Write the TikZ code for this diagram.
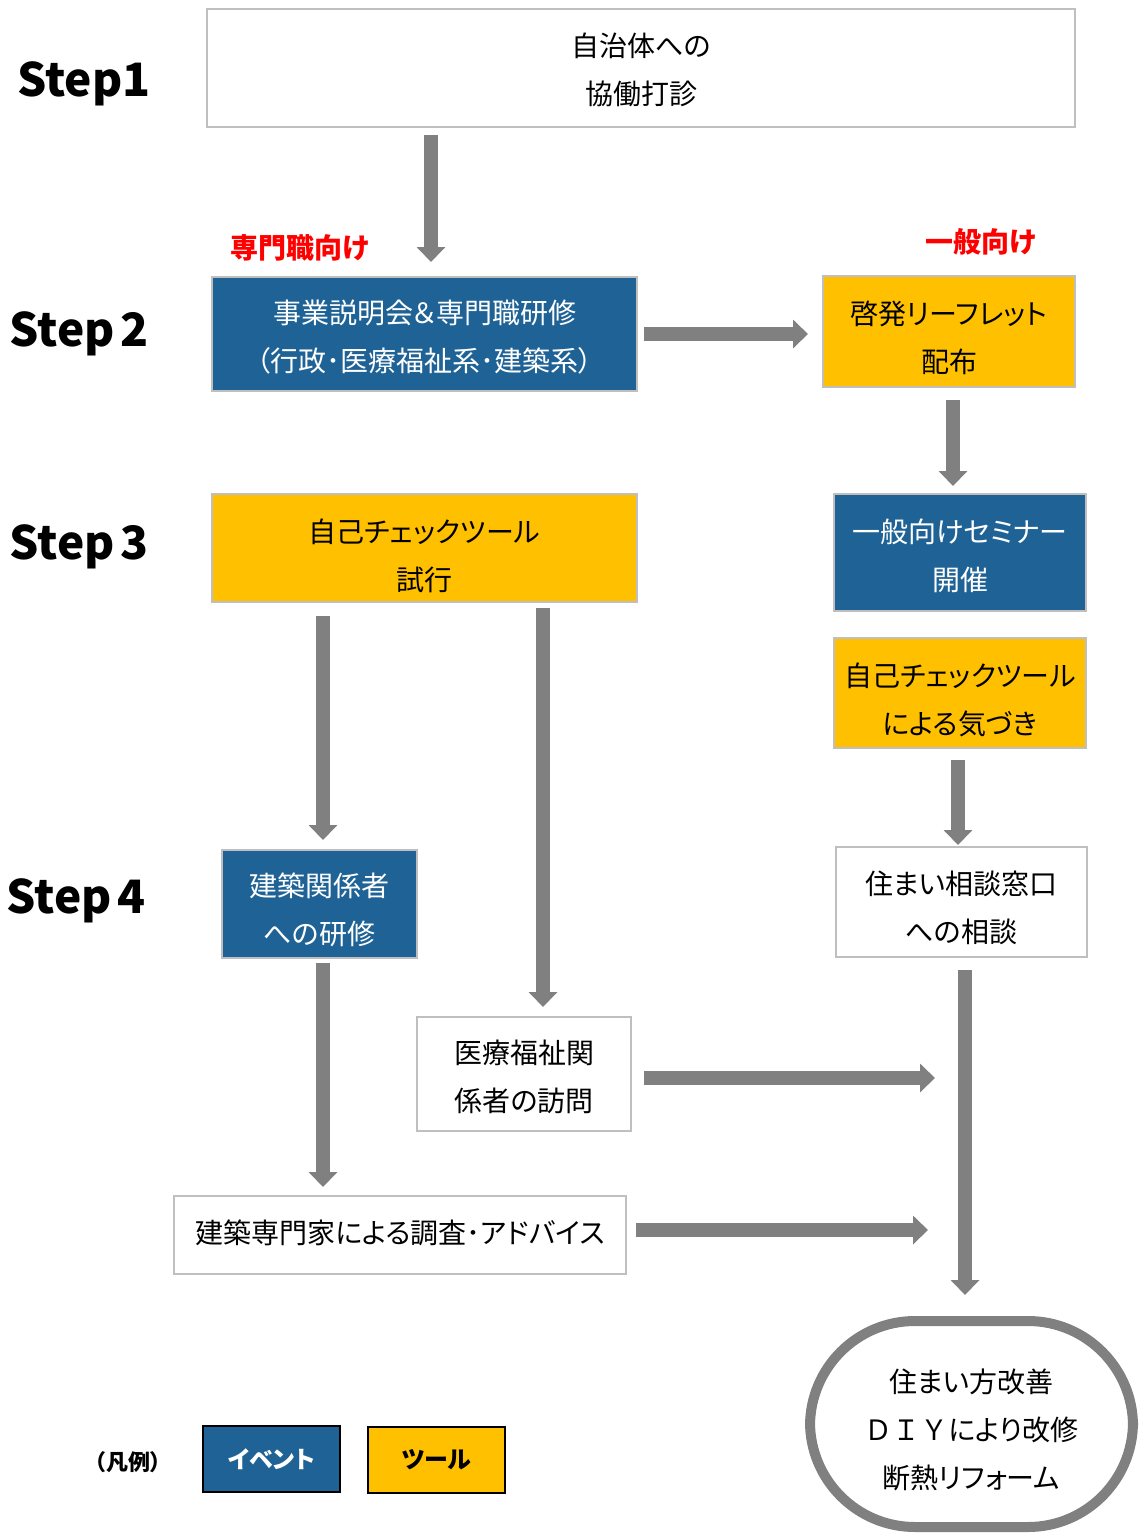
\documentclass[tikz,border=0pt]{standalone}
\usepackage{fontspec}
\setmainfont{Noto Sans CJK JP}[RawFeature={+palt}]
\newfontfamily\jpwide{Noto Sans CJK JP}
\usetikzlibrary{arrows.meta,calc}
\definecolor{evblue}{HTML}{1F6396}
\definecolor{toolyel}{HTML}{FFC000}
\definecolor{bordgray}{HTML}{BFBFBF}
\definecolor{arrgray}{HTML}{808080}
\tikzset{
  box/.style={rectangle, inner sep=0pt, outer sep=0pt, line width=2pt},
  whitebox/.style={box, draw=bordgray, fill=white},
  bluebox/.style={box, draw=bordgray, fill=evblue},
  yelbox/.style={box, draw=bordgray, fill=toolyel},
  btext/.style={inner sep=0pt, align=center, font=\fontsize{28}{48}\selectfont, text=black},
  wtext/.style={btext, text=white},
  fat/.style={draw=arrgray, line width=14pt, -{Triangle[width=28pt,length=15pt]}, arrgray},
  steplabel/.style={font=\bfseries\fontsize{46}{50}\selectfont, inner sep=0pt},
  redlabel/.style={font=\bfseries\fontsize{28}{30}\selectfont, text=red, inner sep=0pt},
  legbox/.style={rectangle, inner sep=0pt, outer sep=0pt, draw=black, line width=1.5pt,
    minimum width=137pt, minimum height=66pt, font=\bfseries\fontsize{24}{26}\selectfont}
}
\begin{document}
\begin{tikzpicture}[x=1pt,y=-1pt]
\useasboundingbox (0,0) rectangle (1140,1535);

% step labels
\node[steplabel] (st1) at (84,84) {Step1};
\node[steplabel] (st2) at (79,334) {Step\hspace{0.12em}2};
\node[steplabel] (st3) at (79,547) {Step\hspace{0.12em}3};
\node[steplabel] (st4) at (76,901) {Step\hspace{0.12em}4};

% red labels
\node[redlabel] (lpro) at (300,248) {専門職向け};
\node[redlabel] (lgen) at (981,242) {一般向け};

% boxes
\node[whitebox, minimum width=868pt, minimum height=118pt] (s1) at (641,68) {};
\node[bluebox, minimum width=425pt, minimum height=114pt] (s2) at (424.5,334) {};
\node[yelbox, minimum width=252pt, minimum height=111pt] (leaf) at (949,331.5) {};
\node[yelbox, minimum width=425pt, minimum height=108pt] (s3) at (424.5,548) {};
\node[bluebox, minimum width=252pt, minimum height=117pt] (sem) at (960,552.5) {};
\node[yelbox, minimum width=252pt, minimum height=110pt] (chk) at (960,693) {};
\node[bluebox, minimum width=195pt, minimum height=108pt] (s4) at (319.5,904) {};
\node[whitebox, minimum width=251pt, minimum height=110pt] (cons) at (961.5,902) {};
\node[whitebox, minimum width=214pt, minimum height=114pt] (med) at (524,1074) {};
\node[whitebox, minimum width=452pt, minimum height=78pt] (adv) at (400,1235) {};
\node[rectangle, rounded corners=105pt, draw=arrgray, line width=10pt, fill=white,
  inner sep=0pt, outer sep=0pt, minimum width=323pt, minimum height=206pt] (goal) at (971.5,1424) {};

% box texts
\node[btext] (s1t) at (641,70) {自治体への\\協働打診};
\node[wtext] (s2t) at (424.5,337.5) {事業説明会＆専門職研修\\（行政･医療福祉系･建築系）};
\node[btext] (leaft) at (949,337.5) {啓発リーフレット\\配布};
\node[btext] (s3t) at (424.5,555.5) {自己チェックツール\\試行};
\node[wtext] (semt) at (960,556) {一般向けセミナー\\開催};
\node[btext] (chkt) at (960,700) {自己チェックツール\\による気づき};
\node[wtext] (s4t) at (319.5,910) {建築関係者\\への研修};
\node[btext] (const) at (961.5,908) {住まい相談窓口\\への相談};
\node[btext] (medt) at (524,1077) {医療福祉関\\係者の訪問};
\node[btext] (advt) at (400,1233) {建築専門家による調査･アドバイス};
\node[btext] (goalt) at (971.5,1429.5) {住まい方改善\\{\jpwide ＤＩＹ}により改修\\断熱リフォーム};

% column coordinates
\coordinate (c431) at (431,0);
\coordinate (c953) at (953,0);
\coordinate (c323) at (323,0);
\coordinate (c543) at (543,0);
\coordinate (c958) at (958,0);
\coordinate (c965) at (965,0);
\coordinate (mEnd) at (935,1078);
\coordinate (aEnd) at (928,1230);

% arrows
\draw[fat, shorten <=8pt, shorten >=15pt] (s1.south -| c431) -- (s2.north -| c431);
\draw[fat, shorten <=7pt, shorten >=15pt] (s2.east) -- (leaf.west |- s2.east);
\draw[fat, shorten <=13pt, shorten >=8pt] (leaf.south -| c953) -- (sem.north -| c953);
\draw[fat, shorten <=14pt, shorten >=10pt] (s3.south -| c323) -- (s4.north -| c323);
\draw[fat, shorten <=6pt, shorten >=10pt] (s3.south -| c543) -- (med.north -| c543);
\draw[fat, shorten <=12pt, shorten >=2pt] (chk.south -| c958) -- (cons.north -| c958);
\draw[fat, shorten <=5pt, shorten >=9pt] (s4.south -| c323) -- (adv.north -| c323);
\draw[fat, shorten <=13pt, shorten >=26pt] (cons.south -| c965) -- (goal.north -| c965);
\draw[fat, shorten <=13pt] (med.east |- mEnd) -- (mEnd);
\draw[fat, shorten <=10pt] (adv.east |- aEnd) -- (aEnd);

% legend
\node[font=\bfseries\fontsize{22}{24}\selectfont, inner sep=0pt] (legl) at (128,1462) {（凡例）};
\node[legbox, fill=evblue, text=white] (lege) at (271.5,1459) {イベント};
\node[legbox, fill=toolyel, text=black] (legt) at (436.5,1460) {ツール};
\end{tikzpicture}
\end{document}
